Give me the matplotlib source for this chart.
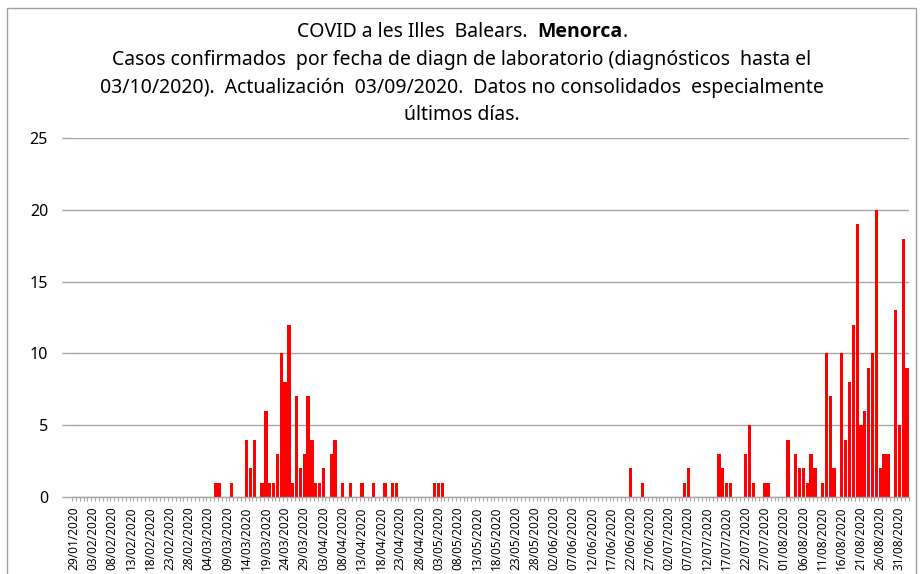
import matplotlib
matplotlib.use('Agg')
import matplotlib.pyplot as plt
import numpy as np
import pandas as pd
from matplotlib.patches import Rectangle

plt.rcParams['font.family'] = ['Noto Sans', 'DejaVu Sans']

# Categories: one per day, 29/01/2020 .. 02/09/2020
dates = pd.date_range('2020-01-29', '2020-09-02', freq='D')
date_labels = list(dates.strftime('%d/%m/%Y'))

# Daily confirmed cases
jan = [0, 0, 0]
feb = [0, 0, 0, 0, 0, 0, 0, 0, 0, 0,
       0, 0, 0, 0, 0, 0, 0, 0, 0, 0,
       0, 0, 0, 0, 0, 0, 0, 0, 0]
mar = [0, 0, 0, 0, 0, 1, 1, 0, 0, 1,
       0, 0, 0, 4, 2, 4, 0, 1, 6, 1,
       1, 3, 10, 8, 12, 1, 7, 2, 3, 7,
       4]
apr = [1, 1, 2, 0, 3, 4, 0, 1, 0, 1,
       0, 0, 1, 0, 0, 1, 0, 0, 1, 0,
       1, 1, 0, 0, 0, 0, 0, 0, 0, 0]
may = [0, 1, 1, 1, 0, 0, 0, 0, 0, 0,
       0, 0, 0, 0, 0, 0, 0, 0, 0, 0,
       0, 0, 0, 0, 0, 0, 0, 0, 0, 0,
       0]
jun = [0, 0, 0, 0, 0, 0, 0, 0, 0, 0,
       0, 0, 0, 0, 0, 0, 0, 0, 0, 0,
       0, 2, 0, 0, 1, 0, 0, 0, 0, 0]
jul = [0, 0, 0, 0, 0, 1, 2, 0, 0, 0,
       0, 0, 0, 0, 3, 2, 1, 1, 0, 0,
       0, 3, 5, 1, 0, 0, 1, 1, 0, 0,
       0]
aug = [0, 4, 0, 3, 2, 2, 1, 3, 2, 0,
       1, 10, 7, 2, 0, 10, 4, 8, 12, 19,
       5, 6, 9, 10, 20, 2, 3, 3, 0, 13,
       5]
sep = [18, 9]
cases = jan + feb + mar + apr + may + jun + jul + aug + sep

label_step = 5
y_ticks = [0, 5, 10, 15, 20, 25]

title_first = ["COVID a les Illes  Balears.", "Menorca", "."]
title_lines = [
    "Casos confirmados  por fecha de diagn de laboratorio (diagnósticos  hasta el",
    "03/10/2020).  Actualización  03/09/2020.  Datos no consolidados  especialmente",
    "últimos días.",
]

W, H = 924, 574
TFS = 14
fig = plt.figure(figsize=(W / 100, H / 100), dpi=100)
ax = fig.add_axes([72 / W, (H - 497) / H, (909 - 72) / W, (497 - 138) / H])

x = np.arange(len(cases))
ax.bar(x, cases, width=0.85, color='#ff0000', zorder=3, linewidth=0)

ax.set_xlim(-0.5, len(cases) - 0.5)
ax.set_ylim(0, 25)
ax.set_yticks(y_ticks)
ax.yaxis.grid(True, color='#a6a6a6', linewidth=1.0, zorder=0)
ax.set_axisbelow(True)

for s in ['left', 'top', 'right']:
    ax.spines[s].set_visible(False)
ax.spines['bottom'].set_color('#a6a6a6')
ax.spines['bottom'].set_linewidth(1.0)
ax.spines['bottom'].set_zorder(4)

ax.tick_params(axis='y', length=7.2, width=1.0, color='#a6a6a6', pad=10,
               labelsize=11.5, labelcolor='#000000')

major = x[::label_step]
ax.set_xticks(major)
ax.set_xticklabels([date_labels[i] for i in major], rotation=90, fontsize=8.5)
ax.set_xticks(np.arange(-0.5, len(cases), 1), minor=True)
ax.tick_params(axis='x', which='major', length=0, pad=7)
ax.tick_params(axis='x', which='minor', length=3, width=0.8, color='#a6a6a6')

# First title line with bold "Menorca"
renderer = fig.canvas.get_renderer()
y1 = 1 - 32 / H
pieces = []
specs = [(title_first[0], 'normal', ['Noto Sans', 'DejaVu Sans']),
         (title_first[1], 'bold', ['Open Sans', 'Liberation Sans', 'DejaVu Sans']),
         (title_first[2], 'normal', ['Noto Sans', 'DejaVu Sans'])]
for txt, wt, fam in specs:
    t = fig.text(0, y1, txt, ha='left', va='center', fontsize=TFS,
                 fontweight=wt, family=fam)
    pieces.append(t)
widths = [p.get_window_extent(renderer).width for p in pieces]
tmp = fig.text(0, 0, "a  b", fontsize=TFS)
tmp2 = fig.text(0, 0, "ab", fontsize=TFS)
gap = tmp.get_window_extent(renderer).width - tmp2.get_window_extent(renderer).width
tmp.remove()
tmp2.remove()
total = widths[0] + gap + widths[1] + widths[2]
xs = W / 2 - total / 2
positions = [xs, xs + widths[0] + gap, xs + widths[0] + gap + widths[1]]
for p, px in zip(pieces, positions):
    p.set_x(px / W)

ys = [60, 88, 115]
for line, yy in zip(title_lines, ys):
    fig.text(0.5, 1 - yy / H, line, ha='center', va='center', fontsize=TFS)

frame = Rectangle((7 / W, -0.2), (916 - 7) / W, 1 - 8 / H + 0.2,
                  transform=fig.transFigure, fill=False,
                  edgecolor='#a0a0a0', linewidth=1.0)
fig.patches.append(frame)

fig.savefig('out.png', dpi=100)
